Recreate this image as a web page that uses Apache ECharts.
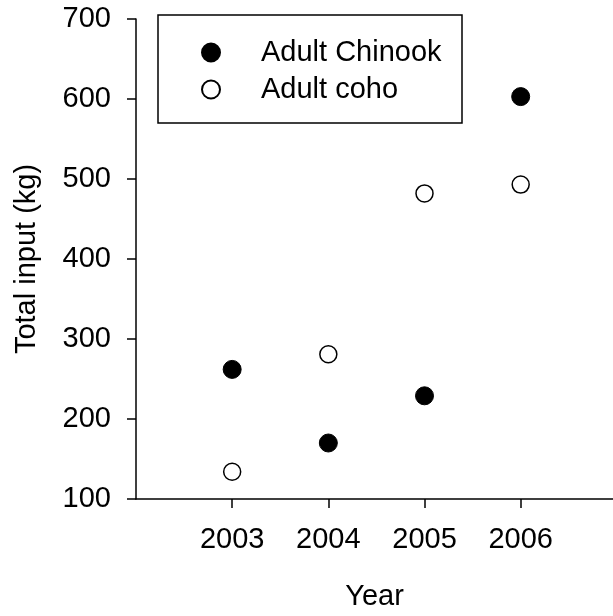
<!DOCTYPE html>
<html>
<head>
<meta charset="utf-8">
<script src="https://cdn.jsdelivr.net/npm/echarts@6/dist/echarts.min.js"></script>
<style>
  html, body { margin: 0; padding: 0; background: #fff; }
  #chart { width: 613px; height: 616px; }
</style>
</head>
<body>
<div id="chart"></div>
<script>
// values
var years = [2003, 2004, 2005, 2006];
var chinook = [262, 170, 229, 603];
var coho = [134, 281, 482, 493];
var yTicks = [100, 200, 300, 400, 500, 600, 700];

var FONT = '"Liberation Sans", Arial, sans-serif';
var FS = 29;

function pairs(xs, ys) {
    var out = [];
    for (var i = 0; i < xs.length; i++) out.push([xs[i], ys[i]]);
    return out;
}

var chart = echarts.init(document.getElementById('chart'));

var option = {
    animation: false,
    backgroundColor: '#fff',
    textStyle: { fontFamily: FONT, color: '#000' },
    grid: { left: 136, top: 19, right: 0, bottom: 116, containLabel: false },
    xAxis: {
        type: 'value',
        min: 2002,
        max: 2006.96,
        name: 'Year',
        nameLocation: 'middle',
        nameGap: 83,
        nameTextStyle: { fontSize: FS, color: '#000', fontFamily: FONT },
        axisLine: { show: true, onZero: false, lineStyle: { color: '#000', width: 1.5 } },
        axisTick: { show: true, length: 9, customValues: years, lineStyle: { color: '#000', width: 1.5 } },
        axisLabel: {
            customValues: years, margin: 26, fontSize: FS, color: '#000', fontFamily: FONT,
            formatter: function (v) { return String(v); }
        },
        splitLine: { show: false }
    },
    yAxis: {
        type: 'value',
        min: yTicks[0],
        max: yTicks[yTicks.length - 1],
        interval: 100,
        name: 'Total input (kg)',
        nameLocation: 'middle',
        nameRotate: 90,
        nameGap: 95,
        nameTextStyle: { fontSize: FS, color: '#000', fontFamily: FONT },
        axisLine: { show: true, onZero: false, lineStyle: { color: '#000', width: 1.5 } },
        axisTick: { show: true, length: 9, lineStyle: { color: '#000', width: 1.5 } },
        axisLabel: { margin: 25, fontSize: FS, color: '#000', fontFamily: FONT },
        splitLine: { show: false }
    },
    legend: {
        orient: 'vertical',
        left: 201,
        top: 34,
        itemWidth: 18,
        itemHeight: 18,
        itemGap: 0,
        padding: 0,
        textStyle: { fontSize: FS, lineHeight: 37, color: '#000', fontFamily: FONT, padding: [0, 0, 0, 36] },
        data: ['Adult Chinook', 'Adult coho']
    },
    graphic: [{
        type: 'rect',
        shape: { x: 158, y: 15, width: 304, height: 108 },
        style: { fill: null, stroke: '#000', lineWidth: 1.5 },
        z: 10
    }],
    series: [{
        name: 'Adult Chinook',
        type: 'scatter',
        symbol: 'circle',
        symbolSize: 18,
        itemStyle: { color: '#000', borderColor: '#000', borderWidth: 1, opacity: 1 },
        data: pairs(years, chinook)
    }, {
        name: 'Adult coho',
        type: 'scatter',
        symbol: 'circle',
        symbolSize: 17,
        itemStyle: { color: '#fff', borderColor: '#000', borderWidth: 1.5, opacity: 1 },
        data: pairs(years, coho)
    }]
};

chart.setOption(option);
</script>
</body>
</html>
